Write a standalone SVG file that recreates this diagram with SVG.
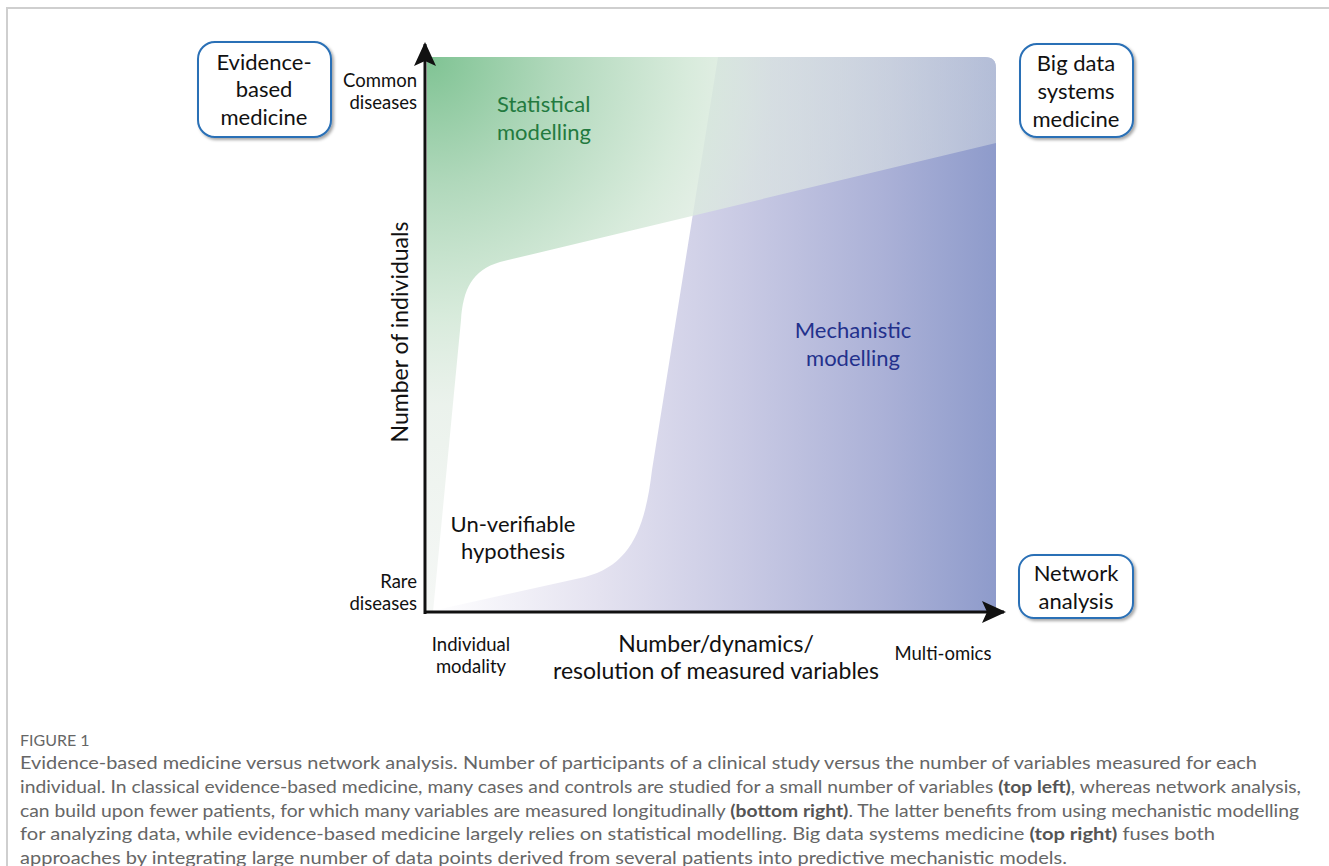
<svg xmlns="http://www.w3.org/2000/svg" width="1329" height="866" viewBox="0 0 1329 866">
<style>
.lbl{font-family:Lato,"Liberation Sans",sans-serif;fill:#111;}
.big{font-size:22px;}
.sm{font-size:18.5px;}
.box{fill:#fff;stroke:#2a70b6;stroke-width:2;}
.cap{font-family:Lato,"Open Sans",sans-serif;font-size:16.5px;font-weight:400;fill:#666;}
.capb{font-weight:bold;fill:#555;}
.axis{stroke:#111;stroke-width:3;fill:none;}
</style>
<defs>
<clipPath id="chartClip"><path d="M427,57 H985 Q996,57 996,68 V612 H427 Z"/></clipPath>
<linearGradient id="blueG" gradientUnits="userSpaceOnUse" x1="430" y1="0" x2="996" y2="0">
<stop offset="0" stop-color="#ffffff"/>
<stop offset="0.3" stop-color="#e4e2f0"/>
<stop offset="0.55" stop-color="#c9cae4"/>
<stop offset="0.8" stop-color="#abb1d7"/>
<stop offset="1" stop-color="#8e9bcb"/>
</linearGradient>
<radialGradient id="greenG" gradientUnits="userSpaceOnUse" cx="427" cy="57" r="580">
<stop offset="0" stop-color="#7fc393" stop-opacity="1"/>
<stop offset="0.22" stop-color="#b0d8bb" stop-opacity="1"/>
<stop offset="0.45" stop-color="#d6eada" stop-opacity="0.95"/>
<stop offset="0.6" stop-color="#e0ebe2" stop-opacity="0.65"/>
<stop offset="1" stop-color="#e8ede9" stop-opacity="0.4"/>
</radialGradient>
<filter id="shadow" x="-10%" y="-10%" width="125%" height="125%">
<feDropShadow dx="2" dy="2" stdDeviation="1.5" flood-color="#000" flood-opacity="0.35"/>
</filter>
<marker id="arrow" viewBox="0 0 24 24" refX="22" refY="12" markerWidth="24" markerHeight="24" markerUnits="userSpaceOnUse" orient="auto">
<path d="M0,1 L24,12 L0,23 L5,12 Z" fill="#111"/>
</marker>
</defs>

<g id="frame">
<path d="M7,866 V8 H1329" fill="none" stroke="#cfcfcf" stroke-width="2"/>
</g>

<g id="regions" clip-path="url(#chartClip)">
<path id="mechanistic-region" d="M718,57 H1000 V612 H427 L585,577 C630,565 645,530 652,470 Z" fill="url(#blueG)"/>
<path id="statistical-region" d="M427,57 H1000 V142 L500,262 C472,270 463,290 461,320 L433,612 H427 Z" fill="url(#greenG)"/>
</g>

<g id="connectors">
<line class="axis" x1="425" y1="614" x2="425" y2="44" marker-end="url(#arrow)"/>
<line class="axis" x1="424" y1="612" x2="1004" y2="612" marker-end="url(#arrow)"/>
</g>

<g id="node-evidence" filter="url(#shadow)">
<rect class="box" x="198" y="42" width="133" height="95" rx="17"/>
</g>
<g id="node-evidence-text" class="lbl big" text-anchor="middle">
<text x="264" y="70">Evidence-</text>
<text x="264" y="97">based</text>
<text x="264" y="125">medicine</text>
</g>

<g id="node-bigdata" filter="url(#shadow)">
<rect class="box" x="1020" y="44" width="113" height="93" rx="17"/>
</g>
<g id="node-bigdata-text" class="lbl big" text-anchor="middle">
<text x="1076" y="71">Big data</text>
<text x="1076" y="99">systems</text>
<text x="1076" y="127">medicine</text>
</g>

<g id="node-network" filter="url(#shadow)">
<rect class="box" x="1019" y="555" width="114" height="63" rx="15"/>
</g>
<g id="node-network-text" class="lbl big" text-anchor="middle">
<text x="1076" y="581">Network</text>
<text x="1076" y="609">analysis</text>
</g>

<g id="axis-labels" class="lbl">
<text class="sm" x="417" y="87" text-anchor="end">Common</text>
<text class="sm" x="417" y="109" text-anchor="end">diseases</text>
<text class="sm" x="417" y="588" text-anchor="end">Rare</text>
<text class="sm" x="417" y="610" text-anchor="end">diseases</text>
<text class="sm" x="471" y="651" text-anchor="middle">Individual</text>
<text class="sm" x="471" y="673" text-anchor="middle">modality</text>
<text class="sm" x="943" y="660" text-anchor="middle">Multi-omics</text>
<text class="big" x="716" y="652" text-anchor="middle" style="font-size:23px">Number/dynamics/</text>
<text class="big" x="716" y="679" text-anchor="middle" style="font-size:23px">resolution of measured variables</text>
<text class="big" transform="translate(408,332) rotate(-90)" text-anchor="middle" style="font-size:23px">Number of individuals</text>
</g>

<g id="region-labels" class="lbl big">
<text x="497" y="112" style="fill:#237a3f">Statistical</text>
<text x="497" y="140" style="fill:#237a3f">modelling</text>
<text x="853" y="338" text-anchor="middle" style="fill:#23318c">Mechanistic</text>
<text x="853" y="366" text-anchor="middle" style="fill:#23318c">modelling</text>
<text x="513" y="532" text-anchor="middle">Un-verifiable</text>
<text x="513" y="559" text-anchor="middle">hypothesis</text>
</g>

<g id="caption">
<text class="cap" x="20" y="746" style="font-size:16px">FIGURE 1</text>
<text class="cap" x="20" y="769" textLength="1237" lengthAdjust="spacingAndGlyphs">Evidence-based medicine versus network analysis. Number of participants of a clinical study versus the number of variables measured for each</text>
<text class="cap" x="20" y="793" textLength="1281" lengthAdjust="spacingAndGlyphs">individual. In classical evidence-based medicine, many cases and controls are studied for a small number of variables <tspan class="capb">(top left)</tspan>, whereas network analysis,</text>
<text class="cap" x="20" y="817" textLength="1279" lengthAdjust="spacingAndGlyphs">can build upon fewer patients, for which many variables are measured longitudinally <tspan class="capb">(bottom right)</tspan>. The latter benefits from using mechanistic modelling</text>
<text class="cap" x="20" y="840" textLength="1195" lengthAdjust="spacingAndGlyphs">for analyzing data, while evidence-based medicine largely relies on statistical modelling. Big data systems medicine <tspan class="capb">(top right)</tspan> fuses both</text>
<text class="cap" x="20" y="864" textLength="1047" lengthAdjust="spacingAndGlyphs">approaches by integrating large number of data points derived from several patients into predictive mechanistic models.</text>
</g>
</svg>
